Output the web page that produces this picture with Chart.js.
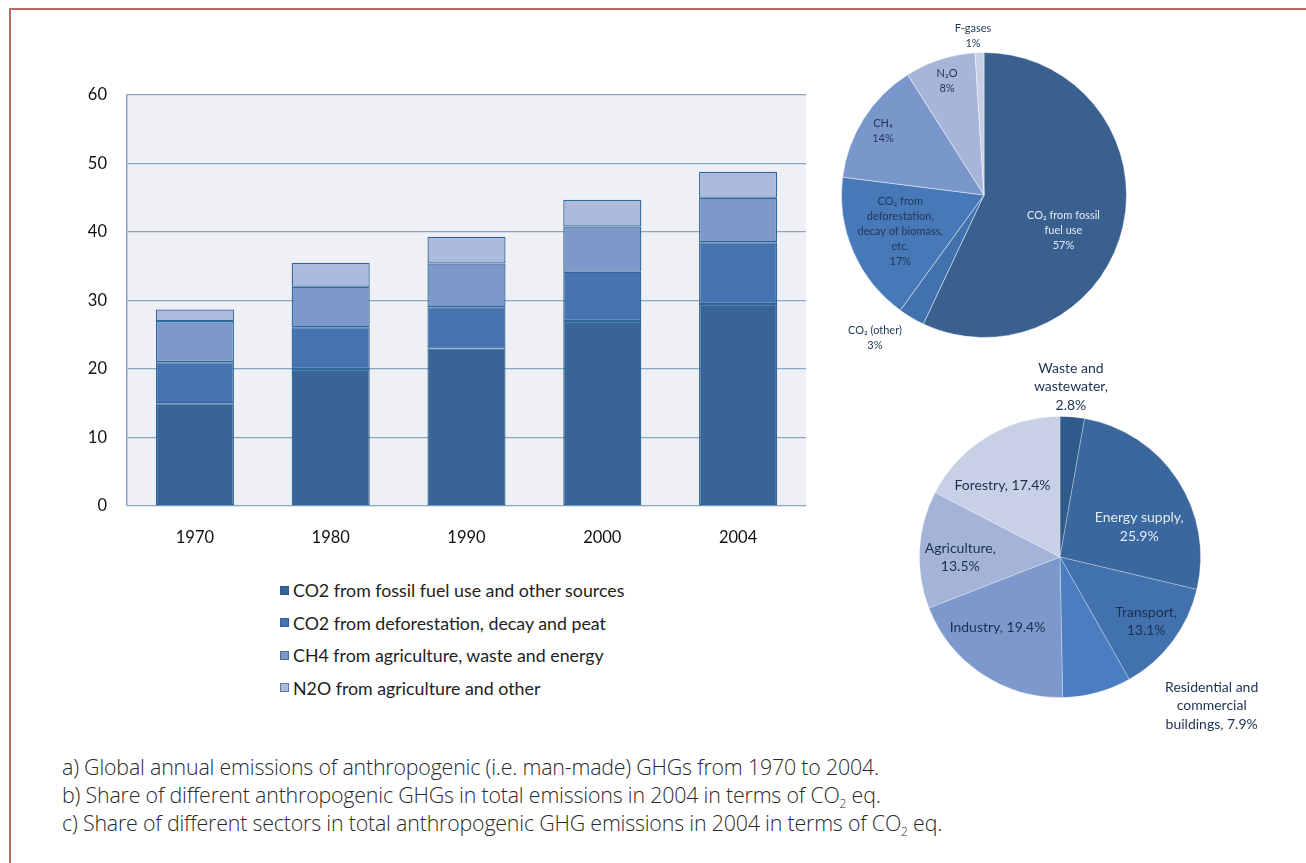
<!DOCTYPE html>
<html>
<head>
<meta charset="utf-8">
<script src="https://cdn.jsdelivr.net/npm/chart.js@4.4.1/dist/chart.umd.min.js"></script>
<style>
  html, body { margin:0; padding:0; background:#ffffff; }
  body { width:1306px; height:863px; position:relative; overflow:hidden; font-family: Lato, "Open Sans", sans-serif; }
  #frame { position:absolute; left:9px; top:8px; width:1400px; height:1000px; border-left:2px solid #b86b5f; border-top:2px solid #b86b5f; }
  canvas { position:absolute; }
  #legend { position:absolute; left:280px; top:574px; }
  .li { display:flex; align-items:center; height:32.5px; font-size:17.8px; color:#1e1e1e; }
  .sw { width:9px; height:9px; margin-right:4px; box-sizing:border-box; border:1px solid rgba(40,80,130,0.6); }
  .cap { position:absolute; left:62px; font-family:"Open Sans", Lato, sans-serif; font-weight:300; font-size:21.4px; line-height:28px; color:#2a2a2a; white-space:nowrap; letter-spacing:-0.2px; }
  .cap sub { font-size:12px; vertical-align:-5px; line-height:0; }
</style>
</head>
<body>
<div id="frame"></div>
<canvas id="bar" width="830" height="560" style="left:0;top:0"></canvas>
<canvas id="pie1" width="330" height="350" style="left:820px;top:15px"></canvas>
<canvas id="pie2" width="400" height="390" style="left:900px;top:355px"></canvas>
<div id="legend"></div>
<div class="cap" style="top:753px">a) Global annual emissions of anthropogenic (i.e. man-made) GHGs from 1970 to 2004.</div>
<div class="cap" style="top:781px">b) Share of different anthropogenic GHGs in total emissions in 2004 in terms of CO<sub>2</sub> eq.</div>
<div class="cap" style="top:809px">c) Share of different sectors in total anthropogenic GHG emissions in 2004 in terms of CO<sub>2</sub> eq.</div>
<script>
// ---------- DATA ----------
const years = ['1970', '1980', '1990', '2000', '2004'];
const seriesNames = [
  'CO2 from fossil fuel use and other sources',
  'CO2 from deforestation, decay and peat',
  'CH4 from agriculture, waste and energy',
  'N2O from agriculture and other'
];
const co2Fossil = [15, 20, 23, 27, 29.5];
const co2Deforestation = [6, 6.1, 6, 7.2, 9];
const ch4 = [6, 5.9, 6.4, 6.6, 6.5];
const n2o = [1.7, 3.5, 3.9, 3.9, 3.8];
const yTicks = [0, 10, 20, 30, 40, 50, 60];

const gasNames = ['CO₂ from fossil fuel use', 'CO₂ (other)', 'CO₂ from deforestation, decay of biomass, etc.', 'CH₄', 'N₂O', 'F-gases'];
const gasShares = [57, 3, 17, 14, 8, 1];
const gasLabelLines = [
  ['CO₂ from fossil', 'fuel use', '57%'],
  ['CO₂ (other)', '3%'],
  ['CO₂ from', 'deforestation,', 'decay of biomass,', 'etc.', '17%'],
  ['CH₄', '14%'],
  ['N₂O', '8%'],
  ['F-gases', '1%']
];

const sectorNames = ['Waste and wastewater', 'Energy supply', 'Transport', 'Residential and commercial buildings', 'Industry', 'Agriculture', 'Forestry'];
const sectorShares = [2.8, 25.9, 13.1, 7.9, 19.4, 13.5, 17.4];
const sectorLabelLines = [
  ['Waste and', 'wastewater,', '2.8%'],
  ['Energy supply,', '25.9%'],
  ['Transport,', '13.1%'],
  ['Residential and', 'commercial', 'buildings, 7.9%'],
  ['Industry, 19.4%'],
  ['Agriculture,', '13.5%'],
  ['Forestry, 17.4%']
];

// ---------- STYLES ----------
const barColors = ['#386596', '#4674b0', '#7d99c9', '#aebadb'];
const gasColors = ['#39608f', '#4272ae', '#4778b8', '#7a97cb', '#a7b6d8', '#c6cfe4'];
const sectorColors = ['#2f5b8c', '#3a679e', '#4272ae', '#4a7ec0', '#7c98cc', '#a4b4d8', '#c7d0e5'];

// ---------- BAR CHART ----------
const plotBg = {
  id: 'plotBg',
  beforeDraw(chart) {
    const {ctx, chartArea: a} = chart;
    ctx.save();
    ctx.fillStyle = '#eef0f5';
    ctx.fillRect(a.left, a.top, a.right - a.left, a.bottom - a.top);
    ctx.restore();
  }
};

const barSeries = [co2Fossil, co2Deforestation, ch4, n2o];
new Chart(document.getElementById('bar'), {
  type: 'bar',
  data: {
    labels: years,
    datasets: barSeries.map((d, i) => ({
      label: seriesNames[i],
      data: d,
      backgroundColor: barColors[i],
      borderColor: '#2f679a',
      borderWidth: 1.3,
      borderSkipped: false,
      barPercentage: 0.575,
      categoryPercentage: 1
    }))
  },
  options: {
    responsive: false,
    devicePixelRatio: 1,
    animation: false,
    layout: { padding: { left: 60, top: 95, right: 24, bottom: 0 } },
    plugins: { legend: { display: false }, tooltip: { enabled: false } },
    scales: {
      x: {
        stacked: true,
        grid: { display: false },
        border: { display: false },
        ticks: { font: { family: 'Lato', size: 16.5 }, color: '#111111', padding: 14 },
        afterFit(s) { s.height = 54; }
      },
      y: {
        stacked: true,
        min: yTicks[0],
        max: yTicks[yTicks.length - 1],
        afterBuildTicks(s) { s.ticks = yTicks.map(v => ({ value: v })); },
        grid: { color: '#86a7c2', lineWidth: 1.2, drawTicks: false },
        border: { display: true, color: '#86a7c2', width: 1.5 },
        ticks: { font: { family: 'Lato', size: 16.5 }, color: '#111111', padding: 20 },
        afterFit(s) { s.width = 67; }
      }
    }
  },
  plugins: [plotBg]
});

// legend (HTML)
const lg = document.getElementById('legend');
seriesNames.forEach((n, i) => {
  const row = document.createElement('div');
  row.className = 'li';
  row.innerHTML = '<span class="sw" style="background:' + barColors[i] + '"></span><span>' + n + '</span>';
  lg.appendChild(row);
});

// ---------- PIE LABELS PLUGIN ----------
const pieLabels = {
  id: 'pieLabels',
  afterDatasetsDraw(chart, args, opts) {
    const {ctx} = chart;
    const meta = chart.getDatasetMeta(0);
    ctx.save();
    ctx.textAlign = 'center';
    ctx.textBaseline = 'middle';
    meta.data.forEach((arc, i) => {
      const p = arc.getProps(['x', 'y', 'startAngle', 'endAngle', 'outerRadius'], true);
      const L = opts.layout[i];
      const mid = (p.startAngle + p.endAngle) / 2;
      const cx = p.x + Math.cos(mid) * p.outerRadius * L.f + L.dx;
      const cy = p.y + Math.sin(mid) * p.outerRadius * L.f + L.dy;
      const lines = opts.lines[i];
      ctx.font = (opts.weight || 'normal') + ' ' + opts.size + 'px Lato, "DejaVu Sans", sans-serif';
      ctx.fillStyle = L.c || opts.color;
      const lh = opts.lineHeight;
      lines.forEach((t, k) => {
        ctx.fillText(t, cx, cy + (k - (lines.length - 1) / 2) * lh);
      });
    });
    ctx.restore();
  }
};

// ---------- PIE 1: GASES ----------
new Chart(document.getElementById('pie1'), {
  type: 'pie',
  data: {
    labels: gasNames,
    datasets: [{ data: gasShares, backgroundColor: gasColors, borderColor: 'rgba(255,255,255,0.45)', borderWidth: 1 }]
  },
  options: {
    responsive: false,
    devicePixelRatio: 1,
    animation: false,
    layout: { padding: { left: 21, right: 23, top: 37, bottom: 27 } },
    plugins: {
      legend: { display: false },
      tooltip: { enabled: false },
      pieLabels: {
        lines: gasLabelLines,
        size: 11,
        weight: 'normal',
        lineHeight: 15,
        color: '#1f3658',
        layout: [
          { f: 0.6, dx: -4, dy: 17, c: '#e3eaf6' },
          { f: 1.2, dx: -22, dy: -4 },
          { f: 0.64, dx: 0, dy: 0 },
          { f: 0.84, dx: 0, dy: 0 },
          { f: 0.84, dx: 0, dy: 0 },
          { f: 1.12, dx: -6, dy: 0 }
        ]
      }
    }
  },
  plugins: [pieLabels]
});

// ---------- PIE 2: SECTORS ----------
new Chart(document.getElementById('pie2'), {
  type: 'pie',
  data: {
    labels: sectorNames,
    datasets: [{ data: sectorShares, backgroundColor: sectorColors, borderColor: 'rgba(255,255,255,0.35)', borderWidth: 0.8 }]
  },
  options: {
    responsive: false,
    devicePixelRatio: 1,
    animation: false,
    layout: { padding: { left: 19, right: 99, top: 61, bottom: 47 } },
    plugins: {
      legend: { display: false },
      tooltip: { enabled: false },
      pieLabels: {
        lines: sectorLabelLines,
        size: 14,
        weight: 'normal',
        lineHeight: 18.5,
        color: '#1c3050',
        layout: [
          { f: 1.21, dx: -4, dy: -1 },
          { f: 0.7, dx: -3, dy: 24, c: '#e3eaf6' },
          { f: 0.766, dx: 0, dy: 0 },
          { f: 1.15, dx: 109, dy: -7 },
          { f: 0.67, dx: -10, dy: -8 },
          { f: 0.71, dx: 0, dy: 6 },
          { f: 0.65, dx: -10, dy: 7 }
        ]
      }
    }
  },
  plugins: [pieLabels]
});
</script>
</body>
</html>
